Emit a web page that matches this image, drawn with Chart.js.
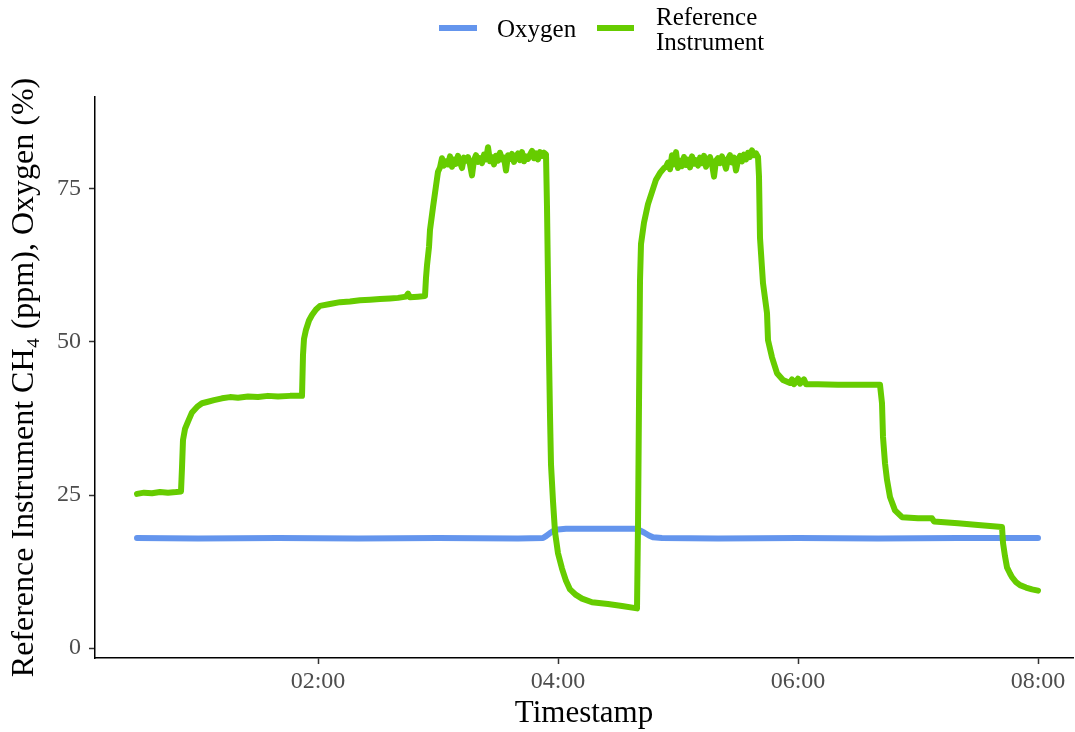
<!DOCTYPE html>
<html>
<head>
<meta charset="utf-8">
<script src="https://cdn.jsdelivr.net/npm/chart.js@4.4.1/dist/chart.umd.min.js"></script>
<style>
  body { margin: 0; background: #fff; }
  #wrap { position: relative; width: 1075px; height: 732px; }
  canvas { position: absolute; left: 0; top: 0; }
  .sw { position: absolute; height: 6px; }
  .lg { position: absolute; font-family: "Liberation Serif", "Times New Roman", serif; font-size: 25px; line-height: 25px; color: #000; white-space: nowrap; }
</style>
</head>
<body>
<div id="wrap">
  <canvas id="chart" width="1075" height="732"></canvas>
  <div class="sw" style="left:439px; top:25px; width:38px; background:#6495ED;"></div>
  <div class="lg" style="left:497px; top:16px;">Oxygen</div>
  <div class="sw" style="left:597px; top:25px; width:37px; background:#66CC00;"></div>
  <div class="lg" style="left:656px; top:4px;">Reference<br>Instrument</div>
</div>
<script>
// time in minutes since 00:00
const refTime = [
  29.5, 33, 37, 41, 45, 49, 51.5, 52, 52.5, 53.5, 55, 57, 59.5, 62, 64.5, 68, 72, 76, 80, 85, 90, 95, 100, 106, 112,
  112.5, 113, 114, 115.5, 117, 119, 121, 126, 131, 136, 141, 146, 151, 156, 160, 164, 165, 166, 170, 173.5,
  174, 174.5, 175.5, 176, 177.5, 179, 180,
  181, 182, 183, 184, 185, 186, 187, 188, 189, 190,
  191, 192, 193, 194, 195, 196, 197, 198, 199, 200,
  201, 202, 203, 204, 205, 206, 207, 208, 209, 210,
  211, 212, 213, 214, 215, 216, 217, 218, 219, 220,
  221, 222, 223, 224, 225, 226, 227, 228, 229, 230,
  231, 232, 233, 234,
  234.5, 235, 235.5, 236, 236.5, 237.5, 238.5, 240, 242, 244, 246, 249, 252, 257, 265, 272, 279.5,
  280, 280.5, 281, 281.5, 283, 285, 287, 289, 291, 293,
  294, 295, 296, 297, 298, 299, 300, 301, 302, 303,
  304, 305, 306, 307, 308, 309, 310, 311, 312, 313,
  314, 315, 316, 317, 318, 319, 320, 321, 322, 323,
  324, 325, 326, 327, 328, 329, 330, 331, 332, 333,
  334, 335, 336, 337, 338, 339,
  340, 340.5, 341, 342.5, 344.5, 345, 347, 349.5, 352.5, 356, 357, 358, 360, 361, 363, 364, 370, 380, 390, 401,
  402, 402.5, 403.5, 404.5, 406, 408.5, 412, 420, 427, 428, 440, 450, 462,
  462.5, 463.5, 464.5, 466, 467, 469, 471, 474, 477, 480
];
const refCH4 = [
  25.2, 25.4, 25.3, 25.5, 25.4, 25.5, 25.6, 29.5, 34.0, 35.8, 37.0, 38.5, 39.4, 40.0, 40.2, 40.5, 40.8, 41.0, 40.9, 41.1, 41.0, 41.2, 41.1, 41.2, 41.2,
  47.9, 50.5, 52.0, 53.5, 54.4, 55.3, 55.9, 56.2, 56.5, 56.6, 56.8, 56.9, 57.0, 57.1, 57.2, 57.4, 57.9, 57.3, 57.4, 57.5,
  60.5, 62.5, 65.5, 68.3, 72.0, 75.5, 77.8,
  78.5, 80.0, 78.8, 79.5, 79.0, 80.3, 78.6, 79.8, 79.1, 80.4,
  79.3, 78.4, 80.1, 79.6, 80.2, 79.0, 77.2, 79.7, 80.5, 79.4,
  80.0, 79.2, 80.6, 79.8, 81.8, 79.5, 80.2, 79.0, 80.4, 79.6,
  80.9, 79.8, 80.1, 78.0, 80.5, 79.9, 80.7, 79.4, 80.2, 80.8,
  79.7, 81.0, 79.5, 80.3, 79.9, 80.6, 81.2, 80.0, 80.8, 79.8,
  81.0, 80.4, 80.9, 80.6,
  72, 60, 48, 38, 30, 24, 19, 15.5, 13, 11, 9.6, 8.7, 8.1, 7.5, 7.2, 6.9, 6.5,
  20, 40, 60, 66, 69.5, 72.5, 74.5, 76.5, 77.6, 78.4,
  78.6, 79.3, 78.2, 80.5, 79.0, 81.0, 78.4, 79.6, 78.7, 80.2,
  78.9, 79.8, 78.5, 80.3, 79.1, 79.7, 78.8, 80.1, 79.2, 80.4,
  78.6, 79.5, 80.2, 79.0, 77.0, 79.6, 80.0, 79.2, 80.3, 79.4,
  78.3, 79.9, 80.5, 79.3, 80.1, 78.0, 79.6, 80.4, 79.5, 80.6,
  79.8, 80.9, 80.2, 81.3, 80.5, 80.8,
  80.2, 77, 67, 59.6, 54.7, 50.3, 47.5, 44.9, 43.8, 43.3, 43.9, 43.1, 44.0, 43.2, 43.9, 43.1, 43.1, 43.0, 43.0, 43.0,
  40, 34.5, 30.2, 27.5, 24.7, 22.5, 21.4, 21.2, 21.2, 20.7, 20.4, 20.1, 19.8,
  17.2, 15.0, 13.2, 12.2, 11.6, 10.8, 10.3, 9.9, 9.6, 9.4
];
const oxyTime = [29.5, 60, 100, 140, 180, 220, 232.5, 234, 236, 238, 240, 244, 250, 260, 270, 278.5, 280.5, 283, 285.5, 287.5, 292, 320, 360, 400, 440, 480];
const oxyValue = [18.0, 17.9, 18.0, 17.9, 18.0, 17.9, 18.0, 18.3, 18.8, 19.2, 19.4, 19.5, 19.5, 19.5, 19.5, 19.5, 19.3, 18.9, 18.4, 18.1, 18.0, 17.9, 18.0, 17.9, 18.0, 18.0];

const xTicks = [120, 240, 360, 480];
const yTicks = [0, 25, 50, 75];

const serif = '"Liberation Serif", "Times New Roman", serif';
const toPts = (ts, vs) => ts.map((t, i) => ({ x: t, y: vs[i] }));
const hhmm = (m) => String(Math.floor(m / 60)).padStart(2, '0') + ':' + String(m % 60).padStart(2, '0');

new Chart(document.getElementById('chart'), {
  type: 'line',
  data: {
    datasets: [
      {
        label: 'Reference Instrument',
        data: toPts(refTime, refCH4),
        borderColor: '#66CC00',
        borderWidth: 6,
        pointRadius: 0,
        tension: 0,
        borderJoinStyle: 'round',
        borderCapStyle: 'round'
      },
      {
        label: 'Oxygen',
        data: toPts(oxyTime, oxyValue),
        borderColor: '#6495ED',
        borderWidth: 6,
        pointRadius: 0,
        tension: 0,
        borderJoinStyle: 'round',
        borderCapStyle: 'round'
      }
    ]
  },
  options: {
    responsive: false,
    animation: false,
    layout: { padding: { top: 97, right: 2, left: 0, bottom: 0 } },
    plugins: { legend: { display: false }, tooltip: { enabled: false } },
    scales: {
      x: {
        type: 'linear',
        min: 8.5,
        max: 497.5,
        afterFit: (s) => { s.height = 74; },
        afterBuildTicks: (s) => { s.ticks = xTicks.map(v => ({ value: v })); },
        grid: { drawOnChartArea: false, drawTicks: true, tickLength: 6, tickColor: '#333', tickWidth: 1.5 },
        border: { display: true, color: '#000', width: 1.5 },
        ticks: { callback: (v) => hhmm(v), color: '#4D4D4D', font: { family: serif, size: 24 }, padding: 3, maxRotation: 0 },
        title: { display: true, text: 'Timestamp', color: '#000', font: { family: serif, size: 31 }, padding: { top: 0, bottom: 0 } }
      },
      y: {
        min: -1.6,
        max: 90,
        afterFit: (s) => { s.width = 95; },
        afterBuildTicks: (s) => { s.ticks = yTicks.map(v => ({ value: v })); },
        grid: { drawOnChartArea: false, drawTicks: true, tickLength: 6, tickColor: '#333', tickWidth: 1.5 },
        border: { display: true, color: '#000', width: 1.5 },
        ticks: { color: '#4D4D4D', font: { family: serif, size: 24 }, padding: 8 },
        title: { display: true, text: 'Reference Instrument CH\u2084 (ppm), Oxygen (%)', color: '#000', font: { family: serif, size: 32 }, padding: { top: 5, bottom: 0 } }
      }
    }
  }
});
</script>
</body>
</html>
